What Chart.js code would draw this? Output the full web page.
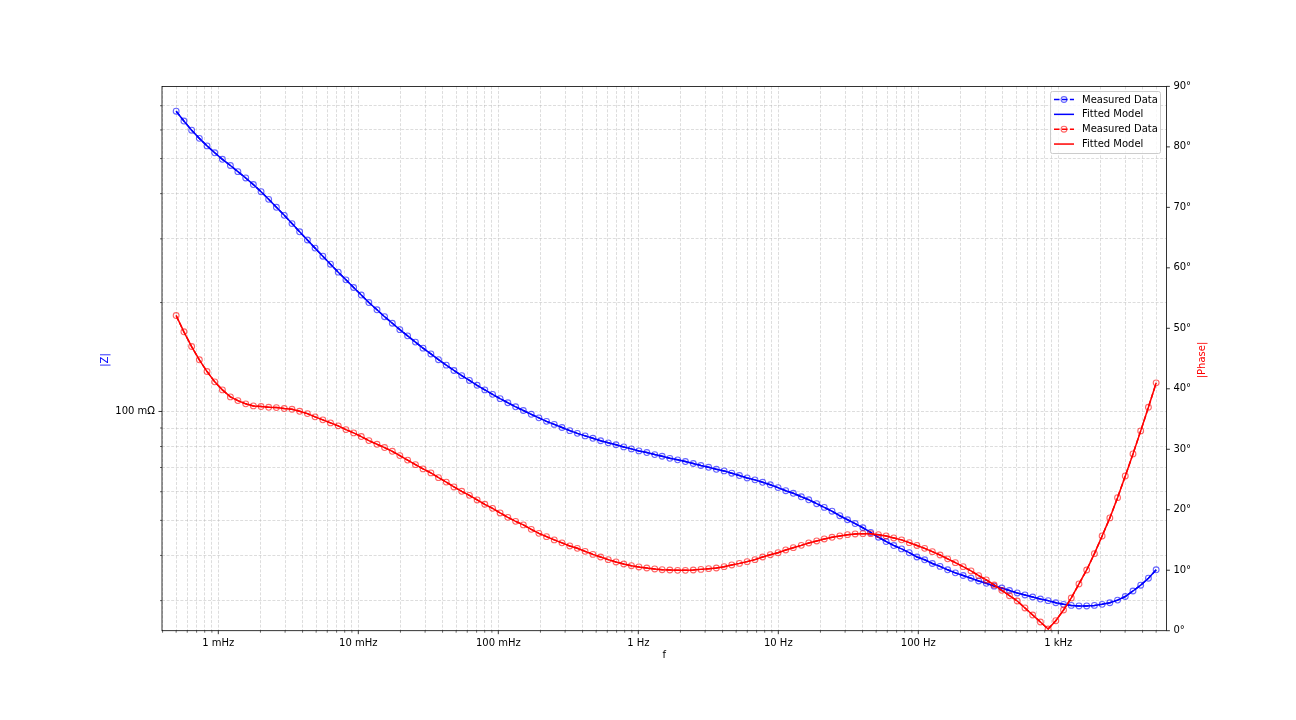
<!DOCTYPE html>
<html>
<head>
<meta charset="utf-8">
<title>Impedance spectrum</title>
<script src="https://cdn.jsdelivr.net/npm/chart.js@4.4.0/dist/chart.umd.min.js"></script>
<style>
  html, body { margin: 0; padding: 0; background: #ffffff; }
  canvas { display: block; }
</style>
</head>
<body>
<canvas id="bode-chart" width="1296" height="720"></canvas>
<script>

// DATA

const frequencies = [
  5.00e-4, 5.68e-4, 6.45e-4, 7.32e-4, 8.31e-4, 9.43e-4,
  1.07e-3, 1.22e-3, 1.38e-3, 1.57e-3, 1.78e-3, 2.02e-3, 2.29e-3, 2.60e-3, 2.96e-3,
  3.36e-3, 3.81e-3, 4.33e-3, 4.91e-3, 5.58e-3, 6.33e-3, 7.19e-3, 8.16e-3, 9.26e-3,
  1.05e-2, 1.19e-2, 1.36e-2, 1.54e-2, 1.75e-2, 1.98e-2, 2.25e-2, 2.56e-2, 2.90e-2,
  3.30e-2, 3.74e-2, 4.25e-2, 4.82e-2, 5.48e-2, 6.22e-2, 7.06e-2, 8.01e-2, 9.10e-2,
  0.103, 0.117, 0.133, 0.151, 0.172, 0.195, 0.221, 0.251, 0.285,
  0.324, 0.367, 0.417, 0.474, 0.538, 0.610, 0.693, 0.787, 0.893,
  1.01, 1.15, 1.31, 1.48, 1.68, 1.91, 2.17, 2.47, 2.80, 3.18,
  3.61, 4.10, 4.65, 5.28, 5.99, 6.81, 7.73, 8.77, 9.96,
  11.3, 12.8, 14.6, 16.5, 18.8, 21.3, 24.2, 27.5, 31.2,
  35.4, 40.2, 45.7, 51.9, 58.9, 66.8, 75.9, 86.2, 97.8,
  111, 126, 143, 162, 184, 209, 238, 270, 306,
  348, 395, 448, 509, 578, 656, 745, 846, 960,
  1090, 1238, 1405, 1595, 1811, 2056, 2334, 2650, 3009,
  3416, 3878, 4403, 5000,
];

// |Z| in ohm
const impedance = [
  0.676, 0.635, 0.599, 0.5687, 0.5421, 0.5188, 0.4977, 0.4784, 0.4601, 0.4420,
  0.4238, 0.4050, 0.3858, 0.3667, 0.3484, 0.3306, 0.3138, 0.2978, 0.2828, 0.2686,
  0.2553, 0.2427, 0.2311, 0.2201, 0.2098, 0.2000, 0.1910, 0.1828, 0.1753, 0.1683,
  0.1618, 0.1555, 0.1496, 0.1442, 0.1390, 0.1343, 0.1298, 0.1256, 0.1218, 0.1181,
  0.1147, 0.1115, 0.1085, 0.1057, 0.1030, 0.1006, 0.0982, 0.0960, 0.0939, 0.0921,
  0.0903, 0.0885, 0.0870, 0.0856, 0.0843, 0.0830, 0.0819, 0.0809, 0.0798, 0.0788,
  0.0778, 0.0770, 0.0760, 0.0752, 0.0742, 0.0735, 0.0727, 0.0718, 0.0709, 0.0701,
  0.0692, 0.0685, 0.0675, 0.0665, 0.0655, 0.0647, 0.0637, 0.0627, 0.0616, 0.0604,
  0.0594, 0.0581, 0.0570, 0.0556, 0.0543, 0.0530, 0.0515, 0.0502, 0.0490, 0.0477,
  0.0463, 0.0449, 0.0437, 0.0426, 0.0417, 0.0407, 0.0396, 0.0389, 0.0380, 0.0373,
  0.0365, 0.0358, 0.0352, 0.0346, 0.0340, 0.0335, 0.0329, 0.0325, 0.0320, 0.0315,
  0.0311, 0.0307, 0.0303, 0.0300, 0.0296, 0.0293, 0.0291, 0.0290, 0.0290, 0.0291,
  0.0293, 0.0296, 0.0301, 0.0308, 0.0319, 0.0331, 0.0346, 0.0365,
];

// |Phase| in degrees
const phase = [
  52.11, 49.42, 46.99, 44.79, 42.85, 41.15, 39.82, 38.66, 38.05, 37.51,
  37.17, 37.06, 36.94, 36.89, 36.73, 36.61, 36.28, 35.90, 35.36, 34.86,
  34.36, 33.87, 33.25, 32.71, 32.10, 31.43, 30.82, 30.28, 29.66, 28.95,
  28.21, 27.46, 26.75, 26.09, 25.31, 24.57, 23.77, 23.05, 22.38, 21.62,
  20.90, 20.23, 19.47, 18.74, 18.08, 17.49, 16.76, 16.10, 15.55, 15.01,
  14.53, 14.01, 13.62, 13.12, 12.62, 12.19, 11.75, 11.37, 11.03, 10.75,
  10.54, 10.37, 10.21, 10.09, 10.04, 9.98, 9.98, 10.04, 10.14, 10.26,
  10.37, 10.59, 10.87, 11.13, 11.42, 11.75, 12.19, 12.57, 12.90, 13.35,
  13.73, 14.11, 14.51, 14.84, 15.17, 15.44, 15.67, 15.88, 16.00, 16.05,
  16.05, 15.88, 15.67, 15.34, 15.02, 14.56, 14.10, 13.62, 13.07, 12.52,
  11.88, 11.25, 10.59, 9.88, 9.10, 8.39, 7.56, 6.67, 5.79, 4.91,
  3.76, 2.60, 1.44, 0.28, 1.65, 3.42, 5.41, 7.73, 10.04, 12.74,
  15.67, 18.65, 22.00, 25.59, 29.23, 33.04, 36.94, 40.98,
];

// TICKS

const freqTicks =
  [1e-3, 1e-2, 1e-1, 1, 10, 100, 1000];

const freqTickLabels =
  ['1 mHz', '10 mHz', '100 mHz', '1 Hz', '10 Hz', '100 Hz', '1 kHz'];

const impedanceTicks =
  [0.1];

const impedanceTickLabels =
  ['100 m\u03A9'];

const phaseTicks =
  [0, 10, 20, 30, 40, 50, 60, 70, 80, 90];

const legendLabels =
  ['Measured Data', 'Fitted Model', 'Measured Data', 'Fitted Model'];

if (impedance.length !== frequencies.length ||
    phase.length !== frequencies.length) {
  console.error('length mismatch', frequencies.length, impedance.length, phase.length);
}

// LAYOUT

const AREA = { left: 162, right: 1166.4, top: 86.4, bottom: 630.7 };
const FONT = 'DejaVu Sans';

const sameValue = (a, b) =>
  Math.abs(Math.log10(a) - Math.log10(b)) < 1e-6;

// major decades + 2..9 minor positions of a log axis
const logGrid = (min, max) => {
  const out = [];
  for (let e = Math.floor(Math.log10(min)); e <= Math.ceil(Math.log10(max)); e++) {
    for (let m = 1; m < 10; m++) {
      const v = m * Math.pow(10, e);
      if (v >= min && v <= max) out.push(v);
    }
  }
  return out;
};

const zPoints =
  frequencies.map((f, i) => ({ x: f, y: impedance[i] }));

const phasePoints =
  frequencies.map((f, i) => ({ x: f, y: phase[i] }));

const X_MIN = Math.pow(10, -3 - 56.3 / 140);
const X_MAX = Math.pow(10, 3 + 108.1 / 140);
const Z_MIN = Math.pow(10, -1.606);
const Z_MAX = Math.pow(10, -0.1015);

const gridStyle = {
  color: 'rgba(176,176,176,0.55)',
  lineWidth: 0.8,
  drawTicks: true,
  tickLength: 3.5,
  tickColor: 'rgba(0,0,0,0)',
};

const tickFont = { family: FONT, size: 10 };

const BLUE_MARK = 'rgba(0,0,255,0.6)';
const RED_MARK = 'rgba(255,0,0,0.6)';

// FRAME, TICK MARKS, AXIS TITLES, LEGEND

const decorations = {
  id: 'decorations',
  afterDraw(chart) {
    const ctx = chart.ctx;
    const { left, right, top, bottom } = chart.chartArea;
    const sx = chart.scales.x;
    const sz = chart.scales.yZ;
    const sp = chart.scales.yPhase;

    ctx.save();

    // tick marks
    ctx.strokeStyle = '#000';
    sx.ticks.forEach(t => {
      const major = freqTicks.some(v => sameValue(v, t.value));
      const px = sx.getPixelForValue(t.value);
      ctx.lineWidth = major ? 0.8 : 0.6;
      ctx.beginPath();
      ctx.moveTo(px, bottom);
      ctx.lineTo(px, bottom + (major ? 3.5 : 2));
      ctx.stroke();
    });
    sz.ticks.forEach(t => {
      const major = impedanceTicks.some(v => sameValue(v, t.value));
      const py = sz.getPixelForValue(t.value);
      ctx.lineWidth = major ? 0.8 : 0.6;
      ctx.beginPath();
      ctx.moveTo(left, py);
      ctx.lineTo(left - (major ? 3.5 : 2), py);
      ctx.stroke();
    });
    sp.ticks.forEach(t => {
      const py = sp.getPixelForValue(t.value);
      ctx.lineWidth = 0.8;
      ctx.beginPath();
      ctx.moveTo(right, py);
      ctx.lineTo(right + 3.5, py);
      ctx.stroke();
    });

    // frame
    ctx.lineWidth = 0.8;
    ctx.strokeRect(left, top, right - left, bottom - top);

    // axis titles
    ctx.font = `10px "${FONT}"`;
    ctx.textAlign = 'center';
    ctx.textBaseline = 'middle';

    ctx.fillStyle = '#000';
    ctx.fillText('f', (left + right) / 2, 655);

    ctx.save();
    ctx.translate(105, (top + bottom) / 2 + 1.5);
    ctx.rotate(-Math.PI / 2);
    ctx.fillStyle = 'blue';
    ctx.fillText('|Z|', 0, 0);
    ctx.restore();

    ctx.save();
    ctx.translate(1202, (top + bottom) / 2 + 1.5);
    ctx.rotate(-Math.PI / 2);
    ctx.fillStyle = 'red';
    ctx.fillText('|Phase|', 0, 0);
    ctx.restore();

    // legend
    const bx = 1050.5, by = 91.5, bw = 110, bh = 62;
    ctx.beginPath();
    ctx.roundRect(bx, by, bw, bh, 2);
    ctx.fillStyle = 'rgba(255,255,255,0.8)';
    ctx.fill();
    ctx.strokeStyle = '#cccccc';
    ctx.lineWidth = 1;
    ctx.stroke();

    const colors = ['blue', 'blue', 'red', 'red'];
    const markerColors = [BLUE_MARK, null, RED_MARK, null];
    ctx.textAlign = 'left';
    legendLabels.forEach((label, k) => {
      const y = 99.5 + k * 14.85;
      ctx.strokeStyle = colors[k];
      ctx.lineWidth = 1.5;
      ctx.setLineDash(markerColors[k] ? [5.55, 2.4] : []);
      ctx.beginPath();
      ctx.moveTo(1054, y);
      ctx.lineTo(1074, y);
      ctx.stroke();
      ctx.setLineDash([]);
      if (markerColors[k]) {
        ctx.strokeStyle = markerColors[k];
        ctx.lineWidth = 1.1;
        ctx.beginPath();
        ctx.arc(1064, y, 2.9, 0, Math.PI * 2);
        ctx.stroke();
      }
      ctx.fillStyle = '#000';
      ctx.fillText(label, 1082, y + 0.5);
    });

    ctx.restore();
  },
};

// CHART

new Chart(
  document.getElementById('bode-chart'),
  {
    type: 'line',

    data: {
      datasets: [
        {
          label: legendLabels[0],
          data: zPoints,
          yAxisID: 'yZ',
          borderColor: 'blue',
          borderWidth: 1.5,
          borderDash: [5.55, 2.4],
          pointRadius: 2.9,
          pointBorderWidth: 1.1,
          pointBorderColor: BLUE_MARK,
          pointBackgroundColor: 'rgba(0,0,0,0)',
          order: 3,
        },
        {
          label: legendLabels[1],
          data: zPoints,
          yAxisID: 'yZ',
          borderColor: 'blue',
          borderWidth: 1.5,
          pointRadius: 0,
          order: 2,
        },
        {
          label: legendLabels[2],
          data: phasePoints,
          yAxisID: 'yPhase',
          borderColor: 'red',
          borderWidth: 1.5,
          borderDash: [5.55, 2.4],
          pointRadius: 2.9,
          pointBorderWidth: 1.1,
          pointBorderColor: RED_MARK,
          pointBackgroundColor: 'rgba(0,0,0,0)',
          order: 1,
        },
        {
          label: legendLabels[3],
          data: phasePoints,
          yAxisID: 'yPhase',
          borderColor: 'red',
          borderWidth: 1.5,
          pointRadius: 0,
          order: 0,
        },
      ],
    },

    options: {
      responsive: false,
      animation: false,
      events: [],

      layout: {
        padding: { top: AREA.top, left: 0, right: 0, bottom: 0 },
      },

      plugins: {
        legend: { display: false },
        tooltip: { enabled: false },
      },

      scales: {

        x: {
          type: 'logarithmic',
          position: 'bottom',
          min: X_MIN,
          max: X_MAX,
          afterBuildTicks: scale => {
            scale.ticks = logGrid(X_MIN, X_MAX).map(v => ({ value: v }));
          },
          afterFit: scale => {
            scale.height = 720 - AREA.bottom;
          },
          ticks: {
            autoSkip: false,
            maxRotation: 0,
            minRotation: 0,
            padding: 3.5,
            color: '#000',
            font: tickFont,
            callback: value => {
              const k = freqTicks.findIndex(v => sameValue(v, value));
              return k >= 0 ? freqTickLabels[k] : '';
            },
          },
          grid: gridStyle,
          border: { display: false, dash: [3, 1.6] },
        },

        yZ: {
          type: 'logarithmic',
          position: 'left',
          min: Z_MIN,
          max: Z_MAX,
          afterBuildTicks: scale => {
            scale.ticks = logGrid(Z_MIN, Z_MAX).map(v => ({ value: v }));
          },
          afterFit: scale => {
            scale.width = AREA.left;
          },
          ticks: {
            autoSkip: false,
            padding: 3.5,
            color: '#000',
            font: tickFont,
            callback: value => {
              const k = impedanceTicks.findIndex(v => sameValue(v, value));
              return k >= 0 ? impedanceTickLabels[k] : '';
            },
          },
          grid: gridStyle,
          border: { display: false, dash: [3, 1.6] },
        },

        yPhase: {
          type: 'linear',
          position: 'right',
          min: 0,
          max: 90,
          afterBuildTicks: scale => {
            scale.ticks = phaseTicks.map(v => ({ value: v }));
          },
          afterFit: scale => {
            scale.width = 1296 - AREA.right;
          },
          ticks: {
            autoSkip: false,
            padding: 3.5,
            color: '#000',
            font: tickFont,
            callback: value => `${value}\u00B0`,
          },
          grid: {
            drawOnChartArea: false,
            drawTicks: true,
            tickLength: 3.5,
            color: 'rgba(0,0,0,0)',
            tickColor: 'rgba(0,0,0,0)',
          },
          border: { display: false },
        },

      },
    },

    plugins: [decorations],
  }
);

</script>
</body>
</html>
